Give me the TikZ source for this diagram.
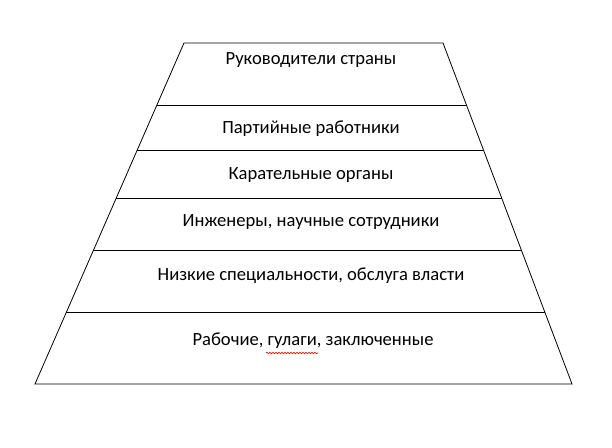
\documentclass[tikz,border=0pt]{standalone}
\usepackage{fontspec}
\setmainfont{Carlito}
\usetikzlibrary{calc,decorations.pathmorphing}
\begin{document}
\begin{tikzpicture}[x=1pt,y=-1pt,
  edge/.style={draw=black,line width=0.8pt},
  lbl/.style={font=\fontsize{18.6}{21}\selectfont,inner sep=0pt}]
\useasboundingbox (0,0) rectangle (612,447);
\coordinate (TL) at (184,43);
\coordinate (TR) at (443,43);
\coordinate (BL) at (35,384);
\coordinate (BR) at (572,384);
\draw[edge] (TL) -- (TR) -- (BR) -- (BL) -- cycle;
\foreach \t in {0.1818,0.3138,0.4545,0.607,0.789}{
  \draw[edge] ($(TL)!\t!(BL)$) -- ($(TR)!\t!(BR)$);
}
\node[lbl] (a) at (311,60) {Руководители страны};
\node[lbl] (b) at (311,129) {Партийные работники};
\node[lbl] (c) at (311,175) {Карательные органы};
\node[lbl] (d) at (311,222) {Инженеры, научные сотрудники};
\node[lbl] (e) at (311,276) {Низкие специальности, обслуга власти};
\node[lbl] (f) at (313,341) {Рабочие, гулаги, заключенные};
\draw[red,line width=0.6pt,decorate,decoration={snake,amplitude=0.8pt,segment length=3pt}] (266,353) -- (318,353);
\end{tikzpicture}
\end{document}
